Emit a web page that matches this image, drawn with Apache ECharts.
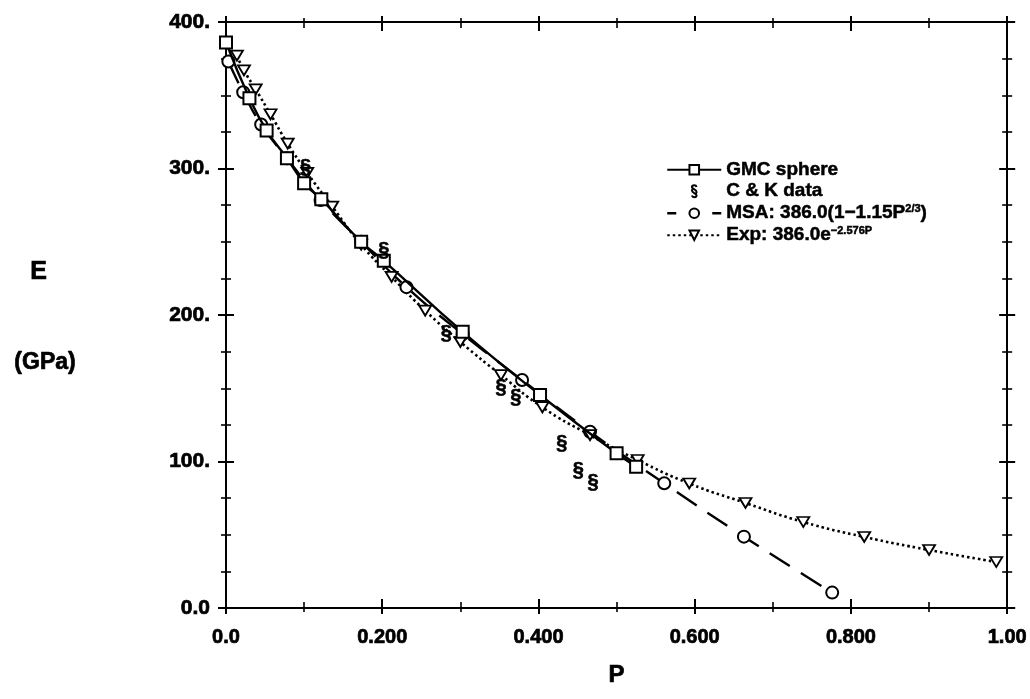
<!DOCTYPE html>
<html>
<head>
<meta charset="UTF-8">
<title>E vs P</title>
<script src="https://cdn.jsdelivr.net/npm/echarts@6/dist/echarts.min.js"></script>
<style>
  html, body { margin: 0; padding: 0; background: #fff; }
  #main { width: 1030px; height: 699px; }
</style>
</head>
<body>
<div id="main"></div>
<script>
// values: [P, E (GPa)]
var gmcSphere = [[0.0, 386], [0.030, 348], [0.052, 326], [0.078, 307], [0.100, 290], [0.122, 279],
  [0.173, 250], [0.202, 237], [0.303, 188.5], [0.402, 145.4], [0.500, 105.6], [0.525, 96.5]];
var ckData = [[0.102, 301], [0.202, 244], [0.282, 187.5], [0.352, 150.6], [0.371, 144],
  [0.430, 112], [0.451, 94], [0.470, 86]];
var msaFit = [[0.003, 373], [0.022, 352], [0.045, 330], [0.078, 307], [0.121, 278.5], [0.173, 250],
  [0.231, 219], [0.303, 187], [0.379, 155.6], [0.466, 120.3], [0.561, 85.1], [0.663, 48.7], [0.776, 10.5]];
var expFit = [[0.014, 377], [0.023, 367], [0.038, 354], [0.057, 337], [0.079, 317], [0.104, 297],
  [0.136, 274], [0.173, 248], [0.212, 226], [0.255, 203], [0.300, 181.6], [0.352, 159], [0.405, 137],
  [0.466, 118], [0.527, 101], [0.593, 85], [0.665, 71.7], [0.739, 58.7], [0.817, 48.5], [0.900, 39.6],
  [0.986, 31.4]];

var xTickLabels = ['0.0', '0.200', '0.400', '0.600', '0.800', '1.00'];
var yTickLabels = ['0.0', '100.', '200.', '300.', '400.'];

var seriesNames = ['GMC sphere', 'C & K data', 'MSA', 'Exp'];

var sectionPath = 'path://M8.5 3.5C8 1.5 6.5 1 5 1C3 1 1.5 2.2 1.5 4C1.5 6.5 8.5 7.5 8.5 11C8.5 12.8 7.2 13.8 5.8 14.2' +
  'M1.5 16.5C2 18.5 3.5 19 5 19C7 19 8.5 17.8 8.5 16C8.5 13.5 1.5 12.5 1.5 9C1.5 7.2 2.8 6.2 4.2 5.8';
var downTriangle = 'path://M0 0L12 0L6 10Z';

var font = 'Liberation Sans';
var ink = '#000';
var chart = echarts.init(document.getElementById('main'), null, { renderer: 'canvas' });

function heavy(size) {
  return { color: ink, fontFamily: font, fontWeight: 'bold', fontSize: size,
    textBorderColor: ink, textBorderWidth: 0.7 };
}

// each side gets two axes: one with ticks inside, one with ticks outside, so the ticks cross the frame
function xAxisBase(pos, inside, showLabel) {
  var lbl = heavy(20);
  lbl.show = showLabel;
  lbl.margin = 19;
  lbl.formatter = function (v) { return xTickLabels[Math.round(v / 0.2)]; };
  return {
    type: 'value', position: pos, min: 0, max: 1, interval: 0.2,
    axisLine: { show: true, onZero: false, lineStyle: { color: ink, width: 2 } },
    axisTick: { show: true, inside: inside, length: inside ? 9 : 6, lineStyle: { color: ink, width: 2 } },
    minorTick: { show: true, splitNumber: 2, length: inside ? 6 : 4, lineStyle: { color: ink, width: 1.6 } },
    splitLine: { show: false },
    axisLabel: lbl
  };
}
function yAxisBase(pos, inside, showLabel) {
  var lbl = heavy(21);
  lbl.show = showLabel;
  lbl.margin = 16;
  lbl.formatter = function (v) { return yTickLabels[Math.round(v / 100)]; };
  return {
    type: 'value', position: pos, min: 0, max: 400, interval: 100,
    axisLine: { show: true, onZero: false, lineStyle: { color: ink, width: 2 } },
    axisTick: { show: true, inside: inside, length: 8, lineStyle: { color: ink, width: 2 } },
    minorTick: { show: true, splitNumber: 4, length: 5, lineStyle: { color: ink, width: 1.6 } },
    splitLine: { show: false },
    axisLabel: lbl
  };
}

var xBottom = xAxisBase('bottom', true, true);
xBottom.name = 'P';
xBottom.nameLocation = 'middle';
xBottom.nameGap = 55;
xBottom.nameTextStyle = heavy(24);

var option = {
  backgroundColor: '#fff',
  animation: false,
  grid: { left: 226, right: 16, top: 22, bottom: 91, containLabel: false },
  xAxis: [xBottom, xAxisBase('bottom', false, false), xAxisBase('top', true, false), xAxisBase('top', false, false)],
  yAxis: [yAxisBase('left', true, true), yAxisBase('left', false, false),
    yAxisBase('right', true, false), yAxisBase('right', false, false)],
  graphic: [
    { type: 'text', left: 30, top: 259, style: { text: 'E', fill: ink, stroke: ink, lineWidth: 0.7,
      font: 'bold 25px "Liberation Sans"' } },
    { type: 'text', left: 14, top: 351, style: { text: '(GPa)', fill: ink, stroke: ink, lineWidth: 0.7,
      font: 'bold 23px "Liberation Sans"' } }
  ],
  legend: {
    orient: 'vertical', left: 661, top: 155,
    itemWidth: 54, itemHeight: 12, itemGap: 2,
    selectedMode: false,
    textStyle: {
      color: ink, fontFamily: font, fontWeight: 'bold', fontSize: 19, lineHeight: 19,
      textBorderColor: ink, textBorderWidth: 0.5,
      rich: {
        t: { fontFamily: font, fontWeight: 'bold', fontSize: 19, color: ink, textBorderColor: ink, textBorderWidth: 0.5 },
        s: { fontFamily: font, fontWeight: 'bold', fontSize: 11, color: ink, padding: [0, 0, 9, 0] }
      }
    },
    formatter: function (name) {
      if (name === 'MSA') return '{t|MSA: 386.0(1\u22121.15P}{s|2/3}{t|)}';
      if (name === 'Exp') return '{t|Exp: 386.0e}{s|\u22122.576P}';
      return name;
    },
    data: [
      { name: 'GMC sphere' },
      { name: 'C & K data', icon: sectionPath,
        itemStyle: { color: 'transparent', borderColor: ink, borderWidth: 2, opacity: 1 } },
      { name: 'MSA', lineStyle: { type: [9, 36], width: 2.5 } },
      { name: 'Exp' }
    ]
  },
  series: [
    {
      name: seriesNames[0], type: 'line', data: gmcSphere, smooth: true, z: 4,
      symbol: 'rect', symbolSize: 12,
      itemStyle: { color: '#fff', borderColor: ink, borderWidth: 2 },
      lineStyle: { color: ink, width: 2.4, type: 'solid' }
    },
    {
      name: seriesNames[1], type: 'scatter', data: ckData, z: 5,
      symbol: 'circle', symbolSize: 1,
      itemStyle: { color: 'transparent', opacity: 1 },
      label: {
        show: true, position: 'inside', formatter: '\u00a7', color: ink, opacity: 1,
        fontFamily: font, fontWeight: 'bold', fontSize: 20, textBorderColor: ink, textBorderWidth: 0.6
      }
    },
    {
      name: seriesNames[2], type: 'line', data: msaFit, smooth: true, z: 3,
      symbol: 'circle', symbolSize: 12,
      itemStyle: { color: '#fff', borderColor: ink, borderWidth: 2 },
      lineStyle: { color: ink, width: 2.4, type: [24, 13] }
    },
    {
      name: seriesNames[3], type: 'line', data: expFit, smooth: true, z: 3,
      symbol: downTriangle, symbolSize: [12, 10],
      itemStyle: { color: '#fff', borderColor: ink, borderWidth: 1.8 },
      lineStyle: { color: ink, width: 2.6, type: [2.5, 3] }
    }
  ]
};
chart.setOption(option);
</script>
</body>
</html>
